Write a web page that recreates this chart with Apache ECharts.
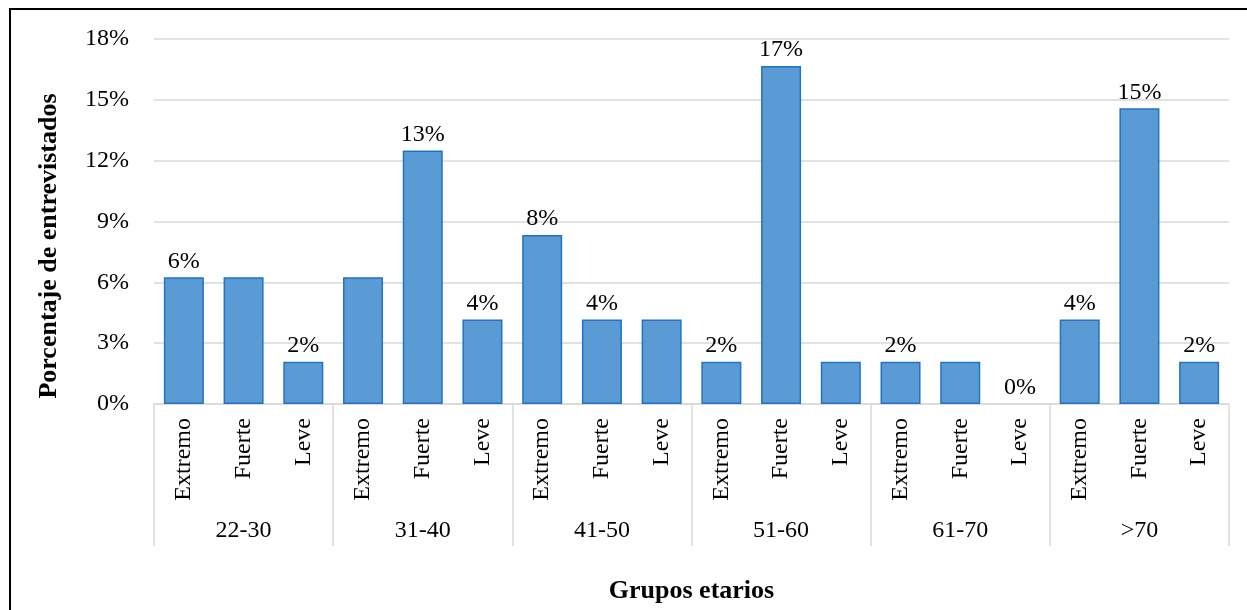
<!DOCTYPE html>
<html>
<head>
<meta charset="utf-8">
<title>Grupos etarios</title>
<script src="https://cdn.jsdelivr.net/npm/echarts@6/dist/echarts.min.js"></script>
<style>
  html, body { margin: 0; padding: 0; background: #fff; overflow: hidden; }
  #frame {
    position: absolute; left: 9px; top: 8px; width: 1400px; height: 800px;
    border-top: 2px solid #000; border-left: 2px solid #000;
  }
  #chart { position: absolute; left: 0; top: 0; width: 1247px; height: 610px; }
</style>
</head>
<body>
<div id="frame"></div>
<div id="chart"></div>
<script>
// niveles por grupo de edad
var levels = ['Extremo', 'Fuerte', 'Leve']
var groups = ['22-30', '31-40', '41-50', '51-60', '61-70', '>70']

// porcentaje de entrevistados, en el orden grupo x nivel
var values = [
  6.25, 6.25, 2.08,
  6.25, 12.5, 4.17,
  8.33, 4.17, 4.17,
  2.08, 16.67, 2.08,
  2.08, 2.08, 0,
  4.17, 14.58, 2.08
]
// 1 = la barra lleva etiqueta de dato
var labelShown = [
  1, 0, 1,
  0, 1, 1,
  1, 1, 0,
  1, 1, 0,
  1, 0, 1,
  1, 1, 1
]

var yTicks = { min: 0, max: 18, interval: 3 }

var font = '"Liberation Serif", "Times New Roman", serif'
var gridColor = '#d9d9d9'

var categories = []
groups.forEach(function(g) {
  levels.forEach(function(l) { categories.push(l) })
})

var barData = values.map(function(v, i) {
  var item = {
    value: v,
    label: { show: labelShown[i] === 1 }
  }
  // una barra en cero no dibuja borde
  if (v === 0) item.itemStyle = { borderWidth: 0 }
  return item
})

var chart = echarts.init(document.getElementById('chart'))
chart.setOption({
  animation: false,
  textStyle: { fontFamily: font },
  grid: {
    left: 154,
    right: 18,
    top: 39,
    bottom: 206,
    containLabel: false,
    outerBoundsMode: 'none'
  },
  xAxis: [
    {
      type: 'category',
      data: categories,
      position: 'bottom',
      axisLine: { show: true, lineStyle: { color: gridColor, width: 1.5 } },
      axisTick: { show: false },
      axisLabel: {
        rotate: 90,
        margin: 14,
        interval: 0,
        color: '#000',
        fontSize: 24,
        fontFamily: font
      }
    },
    {
      type: 'category',
      data: groups,
      position: 'bottom',
      offset: 0,
      axisLine: { show: false },
      axisTick: {
        show: true,
        length: 142,
        lineStyle: { color: gridColor, width: 1.5 }
      },
      axisLabel: {
        margin: 115,
        interval: 0,
        color: '#000',
        fontSize: 24,
        fontFamily: font
      },
      name: 'Grupos etarios',
      nameLocation: 'middle',
      nameGap: 174,
      nameTextStyle: {
        color: '#000',
        fontSize: 26,
        fontWeight: 'bold',
        fontFamily: font
      }
    }
  ],
  yAxis: {
    type: 'value',
    min: yTicks.min,
    max: yTicks.max,
    interval: yTicks.interval,
    axisLine: { show: false },
    axisTick: { show: false },
    splitLine: { lineStyle: { color: gridColor, width: 1.5 } },
    axisLabel: {
      formatter: '{value}%',
      margin: 25,
      color: '#000',
      fontSize: 24,
      fontFamily: font
    },
    name: 'Porcentaje de entrevistados',
    nameLocation: 'middle',
    nameRotate: 90,
    nameGap: 92,
    nameTextStyle: {
      color: '#000',
      fontSize: 26,
      fontWeight: 'bold',
      fontFamily: font,
      padding: [0, 49, 0, 0]
    }
  },
  series: [
    {
      type: 'bar',
      xAxisIndex: 0,
      data: barData,
      barWidth: '67%',
      itemStyle: {
        color: '#5b9bd5',
        borderColor: '#2273c3',
        borderWidth: 1.5
      },
      label: {
        position: 'top',
        distance: 4,
        color: '#000',
        fontSize: 24,
        fontFamily: font,
        formatter: function(p) {
          return Math.round(p.value) + '%'
        }
      },
      silent: true
    }
  ]
})
</script>
</body>
</html>
